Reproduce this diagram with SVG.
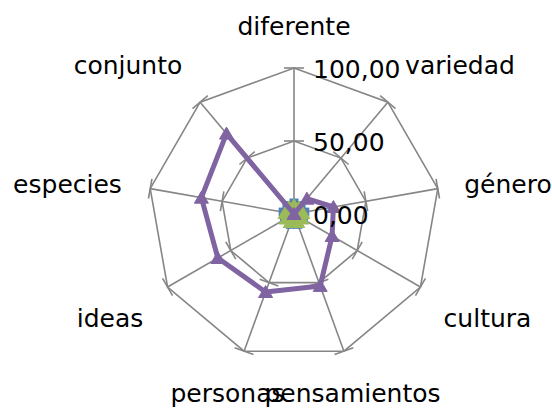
<svg xmlns="http://www.w3.org/2000/svg" xmlns:xlink="http://www.w3.org/1999/xlink" width="552" height="410" viewBox="0 0 552 410">
<style>
.grid{fill:none;stroke:#868686;stroke-width:1.6}
.lbl{font-family:"DejaVu Sans",sans-serif;font-size:25px;fill:#000}
.mid{text-anchor:middle}
.s4{fill:none;stroke:#8064A2;stroke-width:5;stroke-linejoin:round}
.s1{fill:none;stroke:#4F81BD;stroke-width:2.5}
.s2{fill:none;stroke:#C0504D;stroke-width:2.5}
.s3{fill:none;stroke:#9BBB59;stroke-width:3}
</style>
<defs>
<g id="spoke">
<line class="grid" x1="294" y1="214" x2="294" y2="68"/>
<line class="grid" x1="284" y1="68" x2="304" y2="68"/>
<line class="grid" x1="284" y1="141" x2="304" y2="141"/>
</g>
<path id="tri4" d="M0,-6.5 L7,5.5 L-7,5.5 Z" fill="#8064A2" stroke="#8064A2" stroke-width="1"/>
<path id="tri3" d="M0,-7 L8,6 L-8,6 Z" fill="#9BBB59" stroke="#9BBB59" stroke-width="1"/>
<rect id="sq1" x="-4.5" y="-4.5" width="9" height="9" fill="#4F81BD"/>
<rect id="sq2" x="-2.5" y="-2.5" width="5" height="5" fill="#C0504D"/>
</defs>
<g id="gridlines">
<polygon class="grid" points="294,68 387.85,102.16 437.78,188.65 420.44,287 343.93,351.2 244.07,351.2 167.56,287 150.22,188.65 200.15,102.16"/>
<polygon class="grid" points="294,141 340.92,158.08 365.89,201.33 357.22,250.5 318.97,282.6 269.03,282.6 230.78,250.5 222.11,201.33 247.08,158.08"/>
<use xlink:href="#spoke"/>
<use xlink:href="#spoke" transform="rotate(40 294 214)"/>
<use xlink:href="#spoke" transform="rotate(80 294 214)"/>
<use xlink:href="#spoke" transform="rotate(120 294 214)"/>
<use xlink:href="#spoke" transform="rotate(160 294 214)"/>
<use xlink:href="#spoke" transform="rotate(200 294 214)"/>
<use xlink:href="#spoke" transform="rotate(240 294 214)"/>
<use xlink:href="#spoke" transform="rotate(280 294 214)"/>
<use xlink:href="#spoke" transform="rotate(320 294 214)"/>
</g>
<g id="connectors">
<g id="series1">
<polygon class="s1" points="294,203 301.07,205.57 304.83,212.09 303.53,219.5 297.76,224.34 290.24,224.34 284.47,219.5 283.17,212.09 286.93,205.57"/>
<use xlink:href="#sq1" x="294" y="203"/><use xlink:href="#sq1" x="301.07" y="205.57"/><use xlink:href="#sq1" x="304.83" y="212.09"/>
<use xlink:href="#sq1" x="303.53" y="219.5"/><use xlink:href="#sq1" x="297.76" y="224.34"/><use xlink:href="#sq1" x="290.24" y="224.34"/>
<use xlink:href="#sq1" x="284.47" y="219.5"/><use xlink:href="#sq1" x="283.17" y="212.09"/><use xlink:href="#sq1" x="286.93" y="205.57"/>
</g>
<g id="series2">
<polygon class="s2" points="294,204 300.43,206.34 303.85,212.26 302.66,219 297.42,223.4 290.58,223.4 285.34,219 284.15,212.26 287.57,206.34"/>
<use xlink:href="#sq2" x="294" y="204"/><use xlink:href="#sq2" x="300.43" y="206.34"/><use xlink:href="#sq2" x="303.85" y="212.26"/>
<use xlink:href="#sq2" x="302.66" y="219"/><use xlink:href="#sq2" x="297.42" y="223.4"/><use xlink:href="#sq2" x="290.58" y="223.4"/>
<use xlink:href="#sq2" x="285.34" y="219"/><use xlink:href="#sq2" x="284.15" y="212.26"/><use xlink:href="#sq2" x="287.57" y="206.34"/>
</g>
<g id="series3">
<polygon class="s3" points="294,206 299.14,207.87 301.88,212.61 300.93,218 296.74,221.52 291.26,221.52 287.07,218 286.12,212.61 288.86,207.87"/>
<use xlink:href="#tri3" x="294" y="206"/><use xlink:href="#tri3" x="299.14" y="207.87"/><use xlink:href="#tri3" x="301.88" y="212.61"/>
<use xlink:href="#tri3" x="300.93" y="218"/><use xlink:href="#tri3" x="296.74" y="221.52"/><use xlink:href="#tri3" x="291.26" y="221.52"/>
<use xlink:href="#tri3" x="287.07" y="218"/><use xlink:href="#tri3" x="286.12" y="212.61"/><use xlink:href="#tri3" x="288.86" y="207.87"/>
</g>
<g id="series4">
<polygon class="s4" points="294,214 306.9,198.7 333.4,207 332.1,236 320.2,285.9 265.6,292 217.8,258 201.4,197.7 226.5,133.6"/>
<use xlink:href="#tri4" x="294" y="214"/><use xlink:href="#tri4" x="306.9" y="198.7"/><use xlink:href="#tri4" x="333.4" y="207"/>
<use xlink:href="#tri4" x="332.1" y="236"/><use xlink:href="#tri4" x="320.2" y="285.9"/><use xlink:href="#tri4" x="265.6" y="292"/>
<use xlink:href="#tri4" x="217.8" y="258"/><use xlink:href="#tri4" x="201.4" y="197.7"/><use xlink:href="#tri4" x="226.5" y="133.6"/>
</g>
</g>
<g id="value-labels">
<text class="lbl" x="313" y="78">100,00</text>
<text class="lbl" x="313" y="151">50,00</text>
<text class="lbl" x="313" y="224">0,00</text>
</g>
<g id="n-diferente"><text class="lbl mid" x="294" y="35">diferente</text></g>
<g id="n-variedad"><text class="lbl mid" x="460" y="74">variedad</text></g>
<g id="n-genero"><text class="lbl mid" x="508" y="193">género</text></g>
<g id="n-cultura"><text class="lbl mid" x="487.5" y="327">cultura</text></g>
<g id="n-pensamientos"><text class="lbl mid" x="352.5" y="402">pensamientos</text></g>
<g id="n-personas"><text class="lbl mid" x="227.5" y="402">personas</text></g>
<g id="n-ideas"><text class="lbl mid" x="110" y="327">ideas</text></g>
<g id="n-especies"><text class="lbl mid" x="67.5" y="193">especies</text></g>
<g id="n-conjunto"><text class="lbl mid" x="128" y="74">conjunto</text></g>
</svg>
